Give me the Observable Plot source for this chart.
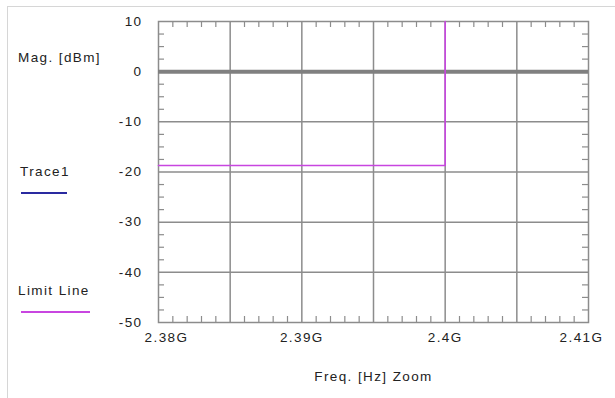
<!DOCTYPE html>
<html>
<head>
<meta charset="utf-8">
<script src="https://cdn.jsdelivr.net/npm/d3@7"></script>
<script src="https://cdn.jsdelivr.net/npm/@observablehq/plot@0.6"></script>
<style>
  html, body { margin: 0; padding: 0; background: #fff; }
  #wrap { position: relative; width: 615px; height: 398px; overflow: hidden; }
  #border { position: absolute; left: 7px; top: 6px; width: 620px; height: 400px;
            border-top: 1.5px solid #d6d6d6; border-left: 1.5px solid #d6d6d6; }
  #wrap svg text { font-family: "Liberation Sans", Arial, sans-serif; letter-spacing: 1.4px; }
  .lbl { position: absolute; font: 13.5px "Liberation Sans", Arial, sans-serif; letter-spacing: 1.4px; color: #222; white-space: nowrap; }
  .sw { position: absolute; height: 2px; }
</style>
</head>
<body>
<div id="wrap">
  <div id="border"></div>
</div>
<script>
// ---- data ----
const xTicksGHz = [2.38, 2.39, 2.40, 2.41];
const xTickLabels = ["2.38G", "2.39G", "2.4G", "2.41G"];
const xGridGHz = [2.385, 2.39, 2.395, 2.40, 2.405];
const yTicks = [10, 0, -10, -20, -30, -40, -50];
const yGrid = [-10, -20, -30, -40];
const limitFreqGHz = [2.38, 2.40, 2.40];
const limitMag = [-18.7, -18.7, 10];
const refLevel = [0];
const seriesNames = ["Trace1", "Limit Line"];
const seriesColors = ["#2a2aa0", "#c846e0"];

const xDomain = [2.38, 2.41];
const yDomain = [-50, 10];
const xMinor = d3.range(2.381, 2.4095, 0.001).filter(v => Math.abs(Math.round(v * 1000) % 5) !== 0);
const yMinor = d3.range(-47.5, 10, 2.5).filter(v => Math.abs(v % 10) > 0.01);

const limit = limitFreqGHz.map((f, i) => ({f, m: limitMag[i]}));
const xLabels = xTicksGHz.map((f, i) => ({f, t: xTickLabels[i]}));

const gridColor = "#8c8c8c";
const tickLenX = (xDomain[1] - xDomain[0]) * 6 / 430;
const tickLenY = (yDomain[1] - yDomain[0]) * 6 / 301;

const chart = Plot.plot({
  width: 615,
  height: 398,
  marginLeft: 158,
  marginRight: 27,
  marginTop: 21,
  marginBottom: 76,
  style: {background: "transparent", color: "#222", fontSize: "13px"},
  x: {domain: xDomain, axis: null},
  y: {domain: yDomain, axis: null},
  marks: [
    Plot.ruleX(xGridGHz, {stroke: gridColor, strokeWidth: 1.5}),
    Plot.ruleY(yGrid, {stroke: gridColor, strokeWidth: 1.5}),
    // minor ticks bottom/top
    Plot.ruleX(xMinor, {y1: yDomain[0], y2: yDomain[0] + tickLenY, stroke: gridColor, strokeWidth: 1.2}),
    Plot.ruleX(xMinor, {y1: yDomain[1], y2: yDomain[1] - tickLenY, stroke: gridColor, strokeWidth: 1.2}),
    // minor ticks left/right
    Plot.ruleY(yMinor, {x1: xDomain[0], x2: xDomain[0] + tickLenX, stroke: gridColor, strokeWidth: 1.2}),
    Plot.ruleY(yMinor, {x1: xDomain[1], x2: xDomain[1] - tickLenX, stroke: gridColor, strokeWidth: 1.2}),
    Plot.frame({stroke: gridColor, strokeWidth: 1.5}),
    Plot.ruleY(refLevel, {stroke: "#808080", strokeWidth: 4}),
    Plot.line(limit, {x: "f", y: "m", stroke: seriesColors[1], strokeWidth: 1.6, curve: "linear"}),
    // y tick labels
    Plot.text(yTicks, {x: xDomain[0], y: d => d, text: d => String(d), textAnchor: "end", dx: -16, fill: "#222", fontSize: 13.5}),
    // x tick labels
    Plot.text(xLabels.slice(1, -1), {x: "f", text: "t", frameAnchor: "bottom", dy: 19, fill: "#222", fontSize: 13.5}),
    Plot.text(xLabels.slice(0, 1), {x: "f", text: "t", frameAnchor: "bottom", dy: 19, dx: 8, fill: "#222", fontSize: 13.5}),
    Plot.text(xLabels.slice(-1), {x: "f", text: "t", frameAnchor: "bottom", dy: 19, dx: -7, fill: "#222", fontSize: 13.5}),
    Plot.text(["Freq. [Hz] Zoom"], {frameAnchor: "bottom", dy: 58, fill: "#222", fontSize: 13.5})
  ]
});
chart.style.position = "absolute";
chart.style.left = "0px";
chart.style.top = "0px";
const wrap = document.getElementById("wrap");
wrap.appendChild(chart);

function addLabel(text, left, top) {
  const d = document.createElement("div");
  d.className = "lbl";
  d.textContent = text;
  d.style.left = left + "px";
  d.style.top = top + "px";
  wrap.appendChild(d);
}
function addSwatch(color, left, top, w) {
  const d = document.createElement("div");
  d.className = "sw";
  d.style.background = color;
  d.style.left = left + "px";
  d.style.top = top + "px";
  d.style.width = w + "px";
  wrap.appendChild(d);
}
addLabel("Mag. [dBm]", 18, 50);
addLabel(seriesNames[0], 20, 164);
addSwatch(seriesColors[0], 21, 192, 46);
addLabel(seriesNames[1], 18, 283);
addSwatch(seriesColors[1], 21, 311, 69);
</script>
</body>
</html>
